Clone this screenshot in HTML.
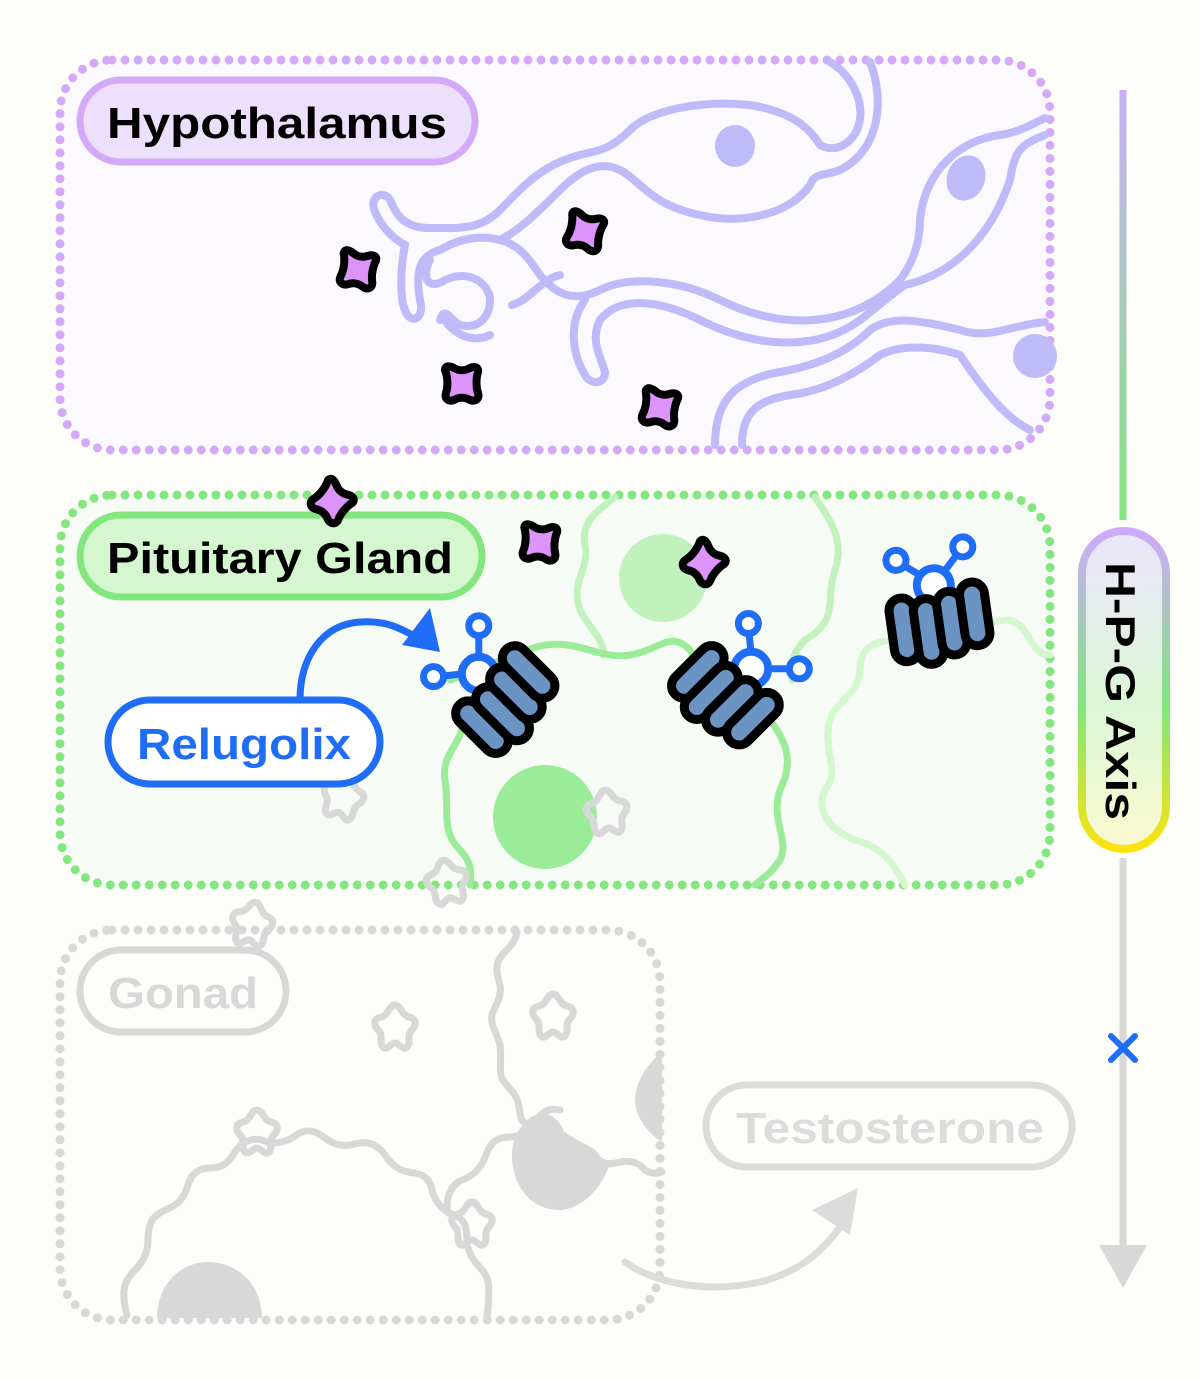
<!DOCTYPE html>
<html><head><meta charset="utf-8"><style>
html,body{margin:0;padding:0;background:#fdfdf9;}
svg{display:block;}
text{font-family:"Liberation Sans",sans-serif;font-weight:bold;}
</style></head><body>
<svg width="1200" height="1380" viewBox="0 0 1200 1380" xmlns="http://www.w3.org/2000/svg">
<defs>
<linearGradient id="ax1" x1="0" y1="88" x2="0" y2="520" gradientUnits="userSpaceOnUse"><stop offset="0" stop-color="#c9aef8"/><stop offset="1" stop-color="#84e67e"/></linearGradient>
<linearGradient id="ax2" x1="0" y1="531" x2="0" y2="849" gradientUnits="userSpaceOnUse"><stop offset="0" stop-color="#cfaafc"/><stop offset="0.55" stop-color="#7fe67e"/><stop offset="1" stop-color="#fce30e"/></linearGradient>
<linearGradient id="ax2f" x1="0" y1="531" x2="0" y2="849" gradientUnits="userSpaceOnUse"><stop offset="0" stop-color="#ece4fc"/><stop offset="0.55" stop-color="#dcf7d6"/><stop offset="1" stop-color="#fbf8d0"/></linearGradient>
<path id="gn" d="M-17 -14 C-17 -19 -12 -18 -8 -16 C-3 -13 3 -13 8 -16 C12 -18 17 -17 16 -12 C14 -6 14 3 16 9 C18 15 13 18 8 16 C3 13 -3 13 -8 16 C-13 18 -18 15 -16 9 C-14 3 -14 -6 -17 -14 Z" fill="#dd94fa" stroke="#000" stroke-width="8" stroke-linejoin="round"/>
<g id="rec">
<line x1="-10" y1="-40" x2="-32" y2="-58" stroke="#1f6cf7" stroke-width="7"/>
<line x1="10" y1="-40" x2="32" y2="-62" stroke="#1f6cf7" stroke-width="7"/>
<circle cx="0" cy="-30" r="17" fill="#fff" stroke="#1f6cf7" stroke-width="8"/>
<circle cx="-34" cy="-60" r="10" fill="#fff" stroke="#1f6cf7" stroke-width="7"/>
<circle cx="34" cy="-64" r="10" fill="#fff" stroke="#1f6cf7" stroke-width="7"/>
<g fill="#6b94c2" stroke="#000" stroke-width="9">
<rect x="-48" y="-22" width="25" height="64" rx="12.5"/>
<rect x="-24" y="-18" width="25" height="66" rx="12.5"/>
<rect x="0" y="-22" width="25" height="64" rx="12.5"/>
<rect x="24" y="-28" width="25" height="64" rx="12.5"/>
</g>
</g>
<path id="st" d="M0 -22 C6 -22 6 -12 14 -10 C22 -8 22 -2 16 4 C12 8 16 16 12 20 C8 24 4 16 0 16 C-4 16 -8 24 -12 20 C-16 16 -12 8 -16 4 C-22 -2 -22 -8 -14 -10 C-6 -12 -6 -22 0 -22 Z" fill="none" stroke="#d8d8d8" stroke-width="7" stroke-linejoin="round"/>
</defs>

<!-- Hypothalamus box -->
<rect x="60" y="60" width="990" height="390" rx="52" fill="#fbf9fe" stroke="#d4aaf8" stroke-width="9" stroke-dasharray="0 13" stroke-linecap="round"/>
<g fill="none" stroke="#bfbaf8" stroke-width="8" stroke-linecap="round">
<path d="M830 62 C860 80 870 120 850 140 C838 152 825 148 820 145 C805 120 780 110 750 105 C700 100 650 110 630 130 C610 150 600 150 580 155 C540 165 520 190 500 210 C480 230 460 228 430 228 C400 228 395 210 390 200 C385 190 368 195 375 212 C382 228 395 240 405 245 C400 270 400 300 405 310 C410 325 425 320 420 300 C415 270 420 255 440 250"/>
<path d="M870 62 C885 100 880 150 840 170 C825 176 815 172 810 185 C790 215 740 225 700 215 C650 205 640 180 620 170 C600 160 580 170 560 190 C540 210 520 230 500 240"/>
<path d="M440 250 C460 238 480 235 500 240 C520 245 530 260 540 275 C560 300 580 300 600 290 C630 275 680 280 720 300 C780 330 850 330 900 280 C915 260 920 240 920 220 C925 170 960 140 1000 135 C1020 132 1030 125 1045 118"/>
<path d="M430 260 C420 280 430 290 445 280 C470 268 490 285 490 300 C490 315 480 330 460 325 C450 320 445 305 440 320"/>
<path d="M445 320 C450 330 470 345 490 335"/>
<path d="M512 305 C530 300 540 280 560 275"/>
<path d="M585 300 C570 320 570 350 585 375 C590 385 605 385 605 372 C600 355 590 340 600 320"/>
<path d="M600 320 C620 295 660 300 700 320 C760 350 820 350 860 320 C880 305 890 295 905 285 C950 275 990 240 1010 180 C1015 150 1020 145 1045 135"/>
<path d="M715 445 C715 400 735 380 780 372 C820 365 850 350 870 330 C890 315 920 320 960 330 C990 340 1010 325 1045 322"/>
<path d="M742 445 C742 410 760 400 790 395 C830 390 860 370 880 355 C900 345 930 345 960 355 C990 400 1010 420 1030 430"/>
</g>
<g fill="#bfbaf8">
<ellipse cx="735" cy="146" rx="20" ry="21"/>
<ellipse cx="966" cy="178" rx="19" ry="23" transform="rotate(20 966 178)"/>
<ellipse cx="1035" cy="356" rx="22" ry="22"/>
</g>

<!-- Pituitary box -->
<rect x="60" y="495" width="990" height="390" rx="52" fill="#f7fbf5" stroke="#84e67e" stroke-width="9" stroke-dasharray="0 13" stroke-linecap="round"/>
<circle cx="663" cy="578" r="44" fill="#c1f2bd"/>
<circle cx="545" cy="817" r="52" fill="#9ceb98"/>
<g fill="none" stroke-width="7" stroke-linecap="round">
<path d="M615 497 C600 510 580 520 585 545 C590 570 570 580 580 610 C590 630 605 640 603 655" stroke="#c1f2bd"/>
<path d="M815 497 C830 520 845 540 835 570 C825 600 840 620 805 640 C795 650 790 660 792 680" stroke="#c1f2bd"/>
<path d="M450 680 C480 670 520 650 545 645 C580 640 600 660 630 655 C660 650 670 630 690 650 C700 665 710 680 720 680" stroke="#9ceb98"/>
<path d="M460 715 C470 740 440 750 445 780 C450 810 440 830 460 850 C475 865 470 880 470 885" stroke="#9ceb98"/>
<path d="M770 720 C785 740 795 760 780 790 C770 820 790 840 780 860 C770 875 760 880 755 885" stroke="#9ceb98"/>
<path d="M900 640 C870 640 860 650 860 670 C858 700 830 700 828 730 C826 760 840 770 825 790 C815 810 830 830 855 840 C875 845 890 855 905 885" stroke="#d4f7d0"/>
<path d="M985 625 C1010 615 1020 620 1030 640 C1040 655 1045 655 1050 655" stroke="#d4f7d0"/>
</g>

<!-- Gonad box -->
<rect x="60" y="930" width="600" height="390" rx="52" fill="none" stroke="#d8d8d8" stroke-width="9" stroke-dasharray="0 13" stroke-linecap="round"/>
<g fill="#d8d8d8">
<path d="M157 1318 C157 1285 180 1262 208 1262 C238 1262 262 1285 262 1318 Z"/>
<path d="M525 1123 C540 1105 560 1115 565 1135 C575 1150 590 1152 610 1163 C600 1195 575 1210 560 1210 C530 1210 512 1185 512 1155 C512 1140 518 1130 525 1123 Z"/>
<path d="M662 1052 C645 1065 635 1085 635 1100 C635 1118 650 1135 662 1142 Z"/>
</g>
<g fill="none" stroke="#d8d8d8" stroke-width="7" stroke-linecap="round">
<path d="M127 1315 C120 1290 125 1280 135 1270 C145 1260 148 1250 148 1240 C148 1220 155 1215 165 1210 C180 1205 185 1195 188 1185 C192 1172 200 1168 210 1168 C225 1168 230 1160 235 1152 C242 1140 255 1138 262 1140 C272 1145 285 1143 295 1136 C305 1128 315 1130 325 1138 C335 1146 345 1147 355 1144 C368 1140 378 1145 385 1155 C395 1170 405 1172 415 1173 C425 1175 430 1180 432 1190 C436 1205 445 1212 455 1215 C465 1220 467 1228 467 1240 C468 1255 475 1262 482 1270 C490 1278 490 1290 487 1318"/>
<path d="M448 1213 C445 1200 450 1185 462 1180 C476 1175 483 1165 487 1152 C492 1140 500 1137 510 1137 C522 1137 530 1128 538 1118 C545 1110 550 1108 560 1110"/>
<path d="M517 932 C515 945 505 950 500 958 C495 965 497 975 500 985 C502 998 495 1005 492 1015 C490 1025 497 1033 500 1045 C502 1060 498 1072 503 1080 C508 1088 515 1092 518 1102 C520 1110 520 1118 522 1120 C525 1125 528 1122 530 1128"/>
<path d="M563 1135 C575 1145 590 1148 595 1155 C600 1165 610 1165 620 1162 C630 1160 638 1162 645 1170 C652 1175 660 1173 662 1172"/>
<path d="M625 1262 C650 1280 700 1295 760 1282 C800 1272 825 1250 845 1220" stroke="#dcdcdc"/>
</g>
<polygon points="858,1188 812,1210 850,1235" fill="#dcdcdc"/>

<!-- stars gray -->
<use href="#st" transform="translate(257,1132)"/>
<use href="#st" transform="translate(395,1027)"/>
<use href="#st" transform="translate(553,1016)"/>
<use href="#st" transform="translate(472,1224)"/>
<use href="#st" transform="translate(252,924) rotate(10)"/>
<use href="#st" transform="translate(447,882) rotate(-10)"/>
<use href="#st" transform="translate(343,797) rotate(15)"/>
<use href="#st" transform="translate(607,812) rotate(-5)"/>

<!-- labels -->
<rect x="80" y="80" width="395" height="82" rx="41" fill="#ede0fc" stroke="#d4aaf8" stroke-width="7"/>
<text x="107" y="138" font-size="44" fill="#000" textLength="340" lengthAdjust="spacingAndGlyphs">Hypothalamus</text>
<rect x="80" y="515" width="402" height="82" rx="41" fill="#d5f7d0" stroke="#84e67e" stroke-width="7"/>
<text x="107" y="573" font-size="44" fill="#000" textLength="346" lengthAdjust="spacingAndGlyphs">Pituitary Gland</text>
<rect x="80" y="950" width="206" height="82" rx="41" fill="none" stroke="#d8d8d8" stroke-width="7"/>
<text x="108" y="1008" font-size="44" fill="#d8d8d8" textLength="150" lengthAdjust="spacingAndGlyphs">Gonad</text>
<rect x="706" y="1085" width="366" height="82" rx="41" fill="none" stroke="#dcdcdc" stroke-width="7"/>
<text x="736" y="1143" font-size="44" fill="#dcdcdc" textLength="308" lengthAdjust="spacingAndGlyphs">Testosterone</text>

<!-- Relugolix -->
<path d="M300 700 C300 660 320 625 360 622 C385 620 400 628 418 638" fill="none" stroke="#1f6cf7" stroke-width="7"/>
<polygon points="440,652 402,645 430,608" fill="#1f6cf7"/>
<rect x="108" y="700" width="272" height="84" rx="42" fill="#fff" stroke="#1f6cf7" stroke-width="7"/>
<text x="137" y="759" font-size="44" fill="#1f6cf7" textLength="214" lengthAdjust="spacingAndGlyphs">Relugolix</text>

<!-- receptors -->
<use href="#rec" transform="translate(500,695) rotate(-45)"/>
<use href="#rec" transform="translate(730,690) rotate(45)"/>
<use href="#rec" transform="translate(938,615) rotate(-8)"/>

<!-- GnRH -->
<use href="#gn" transform="translate(358,270) rotate(10)"/>
<use href="#gn" transform="translate(585,232) rotate(15)"/>
<use href="#gn" transform="translate(462,384)"/>
<use href="#gn" transform="translate(660,408) rotate(10)"/>
<use href="#gn" transform="translate(332,502) rotate(40)"/>
<use href="#gn" transform="translate(540,543) rotate(5)"/>
<use href="#gn" transform="translate(704,563) rotate(40)"/>

<!-- axis -->
<line x1="1123" y1="90" x2="1123" y2="520" stroke="url(#ax1)" stroke-width="7"/>
<rect x="1082" y="531" width="84" height="318" rx="42" fill="url(#ax2f)" stroke="url(#ax2)" stroke-width="8"/>
<text transform="translate(1106,562) rotate(90)" font-size="42" fill="#000" textLength="258" lengthAdjust="spacingAndGlyphs">H-P-G Axis</text>
<line x1="1123" y1="858" x2="1123" y2="1250" stroke="#d8d8d8" stroke-width="7"/>
<polygon points="1099,1245 1147,1245 1123,1288" fill="#d8d8d8"/>
<g stroke="#1f6cf7" stroke-width="6" stroke-linecap="round"><line x1="1111" y1="1036" x2="1135" y2="1060"/><line x1="1135" y1="1036" x2="1111" y2="1060"/></g>
</svg>
</body></html>
